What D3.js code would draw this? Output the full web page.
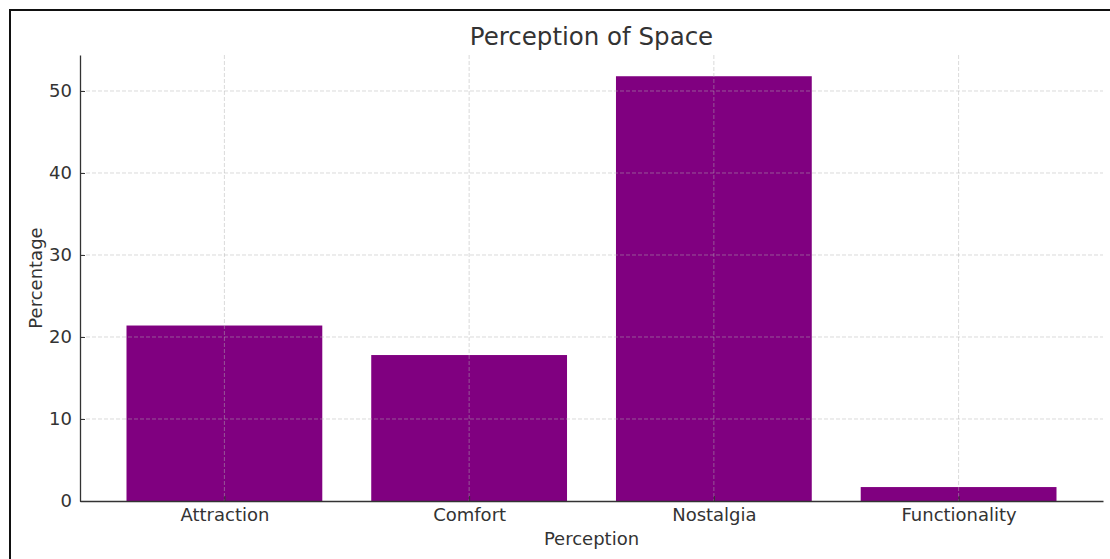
<!DOCTYPE html>
<html>
<head>
<meta charset="utf-8">
<script src="https://cdn.jsdelivr.net/npm/d3@7"></script>
<style>
  body { margin: 0; background: #fff; }
  text { font-family: "DejaVu Sans", sans-serif; fill: #333; }
</style>
</head>
<body>
<script>
var categories = ["Attraction", "Comfort", "Nostalgia", "Functionality"];
var values = [21.4, 17.8, 51.8, 1.7];
var yTicks = [0, 10, 20, 30, 40, 50];

var width = 1110, height = 559;
var mLeft = 80, mRight = 1103, mTop = 55, mBottom = 501;

var svg = d3.select("body").append("svg")
    .attr("width", width)
    .attr("height", height);

// frame round the picture
svg.append("rect")
    .attr("x", 10).attr("y", 10)
    .attr("width", width + 20).attr("height", height + 20)
    .attr("fill", "none")
    .attr("stroke", "#111")
    .attr("stroke-width", 2);

var x = d3.scaleLinear()
    .domain([-0.59, categories.length - 1 + 0.59])
    .range([mLeft, mRight]);

var y = d3.scaleLinear()
    .domain([0, d3.max(values) * 1.05])
    .range([mBottom, mTop]);

var barW = x(0.4) - x(-0.4);

// bars
svg.selectAll("rect.bar")
    .data(values)
    .enter().append("rect")
    .attr("class", "bar")
    .attr("x", function(d, i){ return x(i) - barW / 2 })
    .attr("y", function(d){ return y(d) })
    .attr("width", barW)
    .attr("height", function(d){ return y(0) - y(d) })
    .attr("fill", "#800080");

// grid on top of bars
var grid = svg.append("g")
    .attr("stroke", "#b0b0b0")
    .attr("stroke-opacity", 0.6)
    .attr("stroke-dasharray", "4,2")
    .attr("stroke-width", 0.8);

grid.selectAll("line.h")
    .data(yTicks.slice(1))
    .enter().append("line")
    .attr("x1", mLeft).attr("x2", mRight)
    .attr("y1", function(d){ return y(d) })
    .attr("y2", function(d){ return y(d) });

grid.selectAll("line.v")
    .data(categories)
    .enter().append("line")
    .attr("x1", function(d, i){ return x(i) })
    .attr("x2", function(d, i){ return x(i) })
    .attr("y1", mTop).attr("y2", mBottom);

// axes
var yAxis = svg.append("g")
    .attr("transform", "translate(" + mLeft + ",0)")
    .call(d3.axisLeft(y).tickValues(yTicks).tickSizeInner(-5).tickSizeOuter(0).tickPadding(8));

var xAxis = svg.append("g")
    .attr("transform", "translate(0," + mBottom + ")")
    .call(d3.axisBottom(x).tickValues(d3.range(categories.length))
        .tickFormat(function(d){ return categories[d] })
        .tickSizeInner(-5).tickSizeOuter(0).tickPadding(7));

[yAxis, xAxis].forEach(function(a){
    a.select(".domain").attr("stroke", "#333").attr("stroke-width", 1.3);
    a.selectAll(".tick line").attr("stroke", "#333").attr("stroke-width", 1);
    a.selectAll(".tick text").attr("font-size", "18px").attr("fill", "#333")
        .style("font-family", "DejaVu Sans");
});

// title and labels
svg.append("text")
    .attr("x", (mLeft + mRight) / 2).attr("y", 45)
    .attr("text-anchor", "middle")
    .attr("font-size", "24.5px")
    .text("Perception of Space");

svg.append("text")
    .attr("x", (mLeft + mRight) / 2).attr("y", 545)
    .attr("text-anchor", "middle")
    .attr("font-size", "18px")
    .text("Perception");

svg.append("text")
    .attr("transform", "translate(42," + ((mTop + mBottom) / 2) + ") rotate(-90)")
    .attr("text-anchor", "middle")
    .attr("font-size", "18px")
    .text("Percentage");
</script>
</body>
</html>
